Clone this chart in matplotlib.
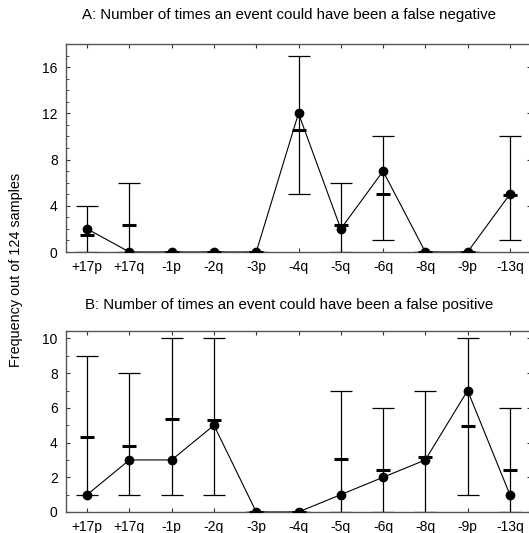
import numpy as np
import matplotlib
matplotlib.use("Agg")
import matplotlib.pyplot as plt
from matplotlib.ticker import MultipleLocator

plt.rcParams['font.family'] = ['Liberation Sans', 'DejaVu Sans']

events = ['+17p', '+17q', '-1p', '-2q', '-3p', '-4q', '-5q', '-6q', '-8q', '-9p', '-13q']

# panel A: false negatives
a_obs = [2, 0, 0, 0, 0, 12, 2, 7, 0, 0, 5]
a_mean = [1.5, 2.3, 0, 0, 0, 10.6, 2.3, 5.0, 0, 0, 4.9]
a_low = [0, 0, 0, 0, 0, 5, 0, 1, 0, 0, 1]
a_high = [4, 6, 0, 0, 0, 17, 6, 10, 0, 0, 10]

# panel B: false positives
b_obs = [1, 3, 3, 5, 0, 0, 1, 2, 3, 7, 1]
b_mean = [4.35, 3.82, 5.35, 5.28, 0, 0, 3.07, 2.4, 3.18, 4.95, 2.43]
b_low = [1, 1, 1, 1, 0, 0, 0, 0, 0, 1, 0]
b_high = [9, 8, 10, 10, 0, 0, 7, 6, 7, 10, 6]


def panel(ax, obs, mean, low, high, ymax, major):
    x = np.arange(len(events))
    obs = np.array(obs)
    mean = np.array(mean)
    lo = mean - np.array(low)
    hi = np.array(high) - mean
    ax.errorbar(x, mean, yerr=[lo, hi], fmt='none', ecolor='black',
                elinewidth=0.9, capsize=8, capthick=0.9, zorder=2)
    ax.plot(x, mean, linestyle='none', marker='_', color='black',
            markersize=10, markeredgewidth=2.2, zorder=3)
    ax.plot(x, obs, color='black', linewidth=0.8, marker='o',
            markersize=6, zorder=4)
    ax.set_xlim(-0.5, 10.5)
    ax.set_ylim(0, ymax)
    ax.set_xticks(x)
    ax.set_xticklabels(events)
    ax.yaxis.set_major_locator(MultipleLocator(major))
    ax.yaxis.set_minor_locator(MultipleLocator(1))
    ax.tick_params(direction='in', length=3, width=0.8, labelsize=10,
                   top=True, right=True, colors='#333333',
                   labelcolor='black')
    ax.tick_params(axis='x', pad=6)
    ax.tick_params(axis='y', pad=6)
    ax.tick_params(which='minor', direction='in', length=2, width=0.6,
                   right=False, colors='#333333')
    for s in ax.spines.values():
        s.set_color('#555555')
        s.set_linewidth(1.0)


fig = plt.figure(figsize=(5.29, 5.33), dpi=100)
ax1 = fig.add_axes([0.1248, 0.5272, 0.879, 0.3902])
ax2 = fig.add_axes([0.1248, 0.0394, 0.879, 0.3402])

panel(ax1, a_obs, a_mean, a_low, a_high, 18, 4)
panel(ax2, b_obs, b_mean, b_low, b_high, 10.45, 2)

fig.text(289 / 529, 1 - 15 / 533,
         'A: Number of times an event could have been a false negative',
         fontsize=10.8, ha='center', va='center')
fig.text(289 / 529, 1 - 305 / 533,
         'B: Number of times an event could have been a false positive',
         fontsize=10.8, ha='center', va='center')
fig.text(16 / 529, 1 - 270 / 533, 'Frequency out of 124 samples',
         rotation=90, fontsize=10.4, va='center', ha='center')

fig.savefig('out.png', dpi=100)
